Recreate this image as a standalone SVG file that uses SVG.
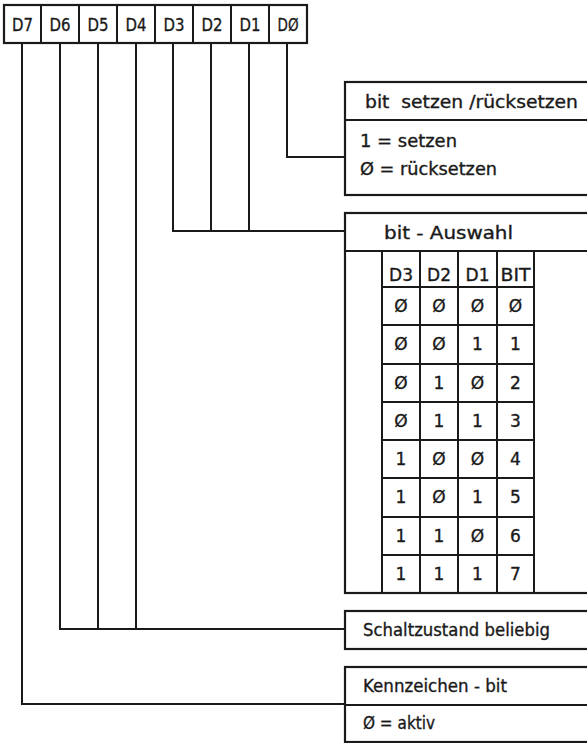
<svg xmlns="http://www.w3.org/2000/svg" width="587" height="743" viewBox="0 0 587 743">
<style>
  .ln{fill:none;stroke:#1a1a1a;stroke-width:2;stroke-linecap:square}
  .bx{fill:#fff;stroke:#1a1a1a;stroke-width:2.2}
  .t{font-family:"DejaVu Sans","Liberation Sans",sans-serif;font-size:17px;fill:#1a1a1a;stroke:#1a1a1a;stroke-width:0.35}
  .r{font-size:18px}
  .c{text-anchor:middle}
</style>
<rect width="587" height="743" fill="#fff"/>
<g id="connectors" class="ln">
  <path d="M287,43 V157 H345"/>
  <path d="M249,43 V231"/>
  <path d="M211,43 V231"/>
  <path d="M173,43 V231 H345"/>
  <path d="M136,43 V629"/>
  <path d="M98,43 V629"/>
  <path d="M60,43 V629 H345"/>
  <path d="M22,43 V704 H345"/>
</g>
<g id="register">
  <rect class="bx" x="4" y="5" width="303" height="38"/>
  <path class="ln" d="M41,5V43 M79,5V43 M117,5V43 M155,5V43 M193,5V43 M231,5V43 M269,5V43"/>
  <g class="t r c">
    <text x="22.5" y="31" textLength="21" lengthAdjust="spacingAndGlyphs">D7</text>
    <text x="60" y="31" textLength="21" lengthAdjust="spacingAndGlyphs">D6</text>
    <text x="98" y="31" textLength="21" lengthAdjust="spacingAndGlyphs">D5</text>
    <text x="136" y="31" textLength="21" lengthAdjust="spacingAndGlyphs">D4</text>
    <text x="174" y="31" textLength="21" lengthAdjust="spacingAndGlyphs">D3</text>
    <text x="212" y="31" textLength="21" lengthAdjust="spacingAndGlyphs">D2</text>
    <text x="250" y="31" textLength="21" lengthAdjust="spacingAndGlyphs">D1</text>
    <text x="288" y="31" textLength="21" lengthAdjust="spacingAndGlyphs">DØ</text>
  </g>
</g>
<g id="setzen">
  <rect class="bx" x="345" y="82" width="260" height="113"/>
  <path class="ln" d="M345,120H587"/>
  <text class="t" x="365" y="108" textLength="213" lengthAdjust="spacingAndGlyphs" xml:space="preserve">bit  setzen /rücksetzen</text>
  <text class="t" x="360" y="147" textLength="97" lengthAdjust="spacingAndGlyphs">1 = setzen</text>
  <text class="t" x="360" y="175" textLength="137" lengthAdjust="spacingAndGlyphs">Ø = rücksetzen</text>
</g>
<g id="auswahl">
  <rect class="bx" x="345" y="213" width="260" height="380"/>
  <path class="ln" d="M345,251H587"/>
  <text class="t" x="384" y="239" textLength="129" lengthAdjust="spacingAndGlyphs">bit - Auswahl</text>
  <path class="ln" d="M382,251V593 M420,251V593 M458,251V593 M497,251V593 M534,251V593"/>
  <path class="ln" d="M382,287H534 M382,325H534 M382,364H534 M382,402H534 M382,440H534 M382,478H534 M382,517H534 M382,555H534"/>
  <g class="t c">
    <text x="401" y="281">D3</text><text x="439" y="281">D2</text><text x="477.5" y="281">D1</text><text x="515.5" y="281" textLength="30" lengthAdjust="spacingAndGlyphs">BIT</text>
    <text x="401" y="312">Ø</text><text x="439" y="312">Ø</text><text x="477.5" y="312">Ø</text><text x="515.5" y="312">Ø</text>
    <text x="401" y="350">Ø</text><text x="439" y="350">Ø</text><text x="477.5" y="350">1</text><text x="515.5" y="350">1</text>
    <text x="401" y="389">Ø</text><text x="439" y="389">1</text><text x="477.5" y="389">Ø</text><text x="515.5" y="389">2</text>
    <text x="401" y="427">Ø</text><text x="439" y="427">1</text><text x="477.5" y="427">1</text><text x="515.5" y="427">3</text>
    <text x="401" y="465">1</text><text x="439" y="465">Ø</text><text x="477.5" y="465">Ø</text><text x="515.5" y="465">4</text>
    <text x="401" y="503">1</text><text x="439" y="503">Ø</text><text x="477.5" y="503">1</text><text x="515.5" y="503">5</text>
    <text x="401" y="542">1</text><text x="439" y="542">1</text><text x="477.5" y="542">Ø</text><text x="515.5" y="542">6</text>
    <text x="401" y="580">1</text><text x="439" y="580">1</text><text x="477.5" y="580">1</text><text x="515.5" y="580">7</text>
  </g>
</g>
<g id="schaltzustand">
  <rect class="bx" x="345" y="611" width="260" height="38"/>
  <text class="t" x="363" y="636" textLength="187" lengthAdjust="spacingAndGlyphs">Schaltzustand beliebig</text>
</g>
<g id="kennzeichen">
  <rect class="bx" x="345" y="667" width="260" height="75"/>
  <path class="ln" d="M345,705H587"/>
  <text class="t" x="363" y="692" textLength="144" lengthAdjust="spacingAndGlyphs">Kennzeichen - bit</text>
  <text class="t" x="363" y="729" textLength="72" lengthAdjust="spacingAndGlyphs">Ø = aktiv</text>
</g>
</svg>
